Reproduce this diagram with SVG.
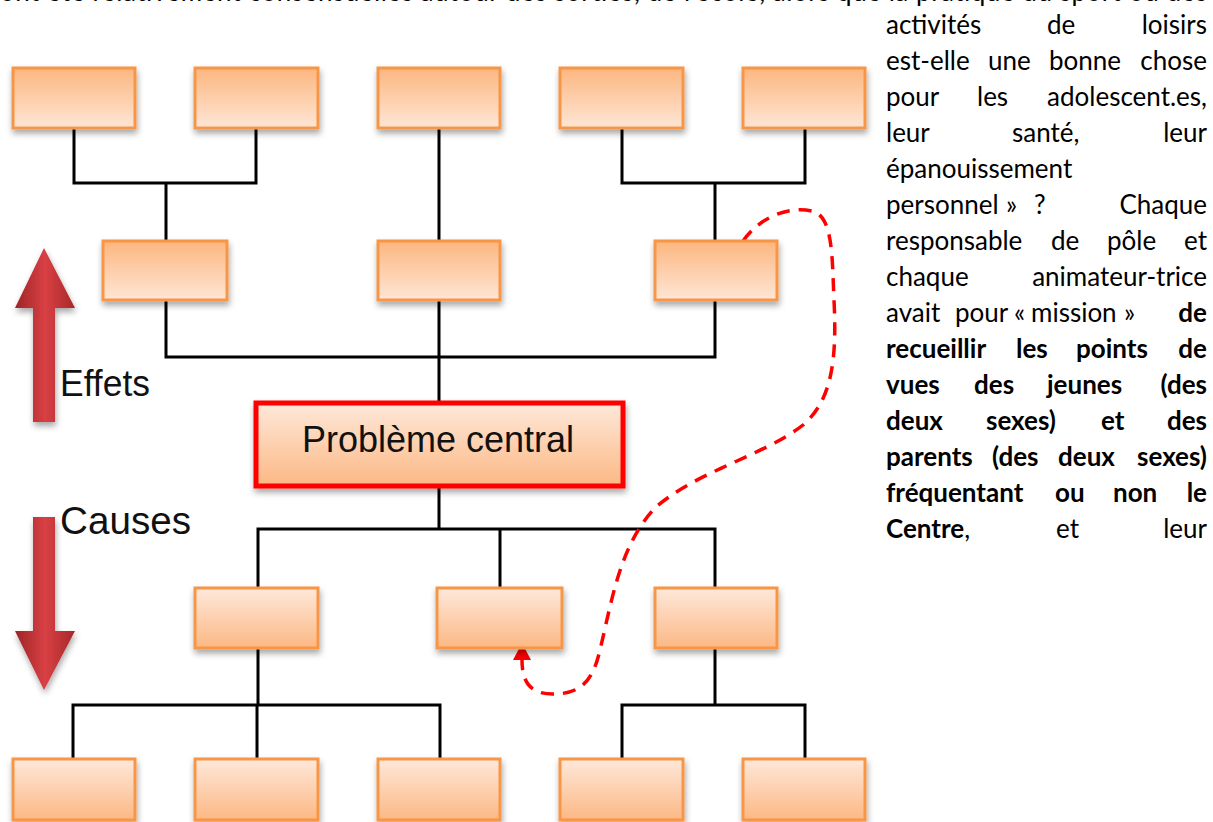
<svg xmlns="http://www.w3.org/2000/svg" width="1213" height="822" viewBox="0 0 1213 822">
<style>
.box{stroke:#f79646;stroke-width:3;filter:url(#sh)}
.up{fill:url(#gUp)}
.dn{fill:url(#gDn)}
.conn{fill:none;stroke:#000;stroke-width:3;stroke-linejoin:miter}
.dash{fill:none;stroke:#ff0000;stroke-width:3.5;stroke-dasharray:13 9;stroke-linecap:butt}
.lbl{font-family:"Liberation Sans",Arial,sans-serif;fill:#111}
.para{font-family:Lato,"Open Sans",sans-serif;font-size:26px;fill:#000}
.b{font-weight:700}
</style>
<defs>
<linearGradient id="gUp" x1="0" y1="0" x2="0" y2="1">
<stop offset="0" stop-color="#fcb67f"/><stop offset="1" stop-color="#fee6d6"/>
</linearGradient>
<linearGradient id="gDn" x1="0" y1="0" x2="0" y2="1">
<stop offset="0" stop-color="#fee8da"/><stop offset="1" stop-color="#fcb884"/>
</linearGradient>
<linearGradient id="gArrow" x1="0" y1="0" x2="1" y2="0">
<stop offset="0" stop-color="#9e2426"/><stop offset="0.5" stop-color="#d84044"/><stop offset="1" stop-color="#a8282a"/>
</linearGradient>
<filter id="sh" x="-20%" y="-20%" width="140%" height="150%">
<feDropShadow dx="1" dy="4" stdDeviation="3" flood-color="#000" flood-opacity="0.35"/>
</filter>
</defs>
<rect width="1213" height="822" fill="#fff"/>

<text class="para" x="0" y="1" textLength="1207" lengthAdjust="spacing">ont été relativement consensuelles autour des sorties, de l’école, alors que la pratique du sport ou des</text>

<g id="connectors">
<path class="conn" d="M74 128V183H256V128M166 183V241"/>
<path class="conn" d="M439 128V241M439 300V402"/>
<path class="conn" d="M622 128V183H805V128M715 183V241"/>
<path class="conn" d="M166 300V357H715V300"/>
<path class="conn" d="M439 487V529M258 588V529H715V588M500 529V588"/>
<path class="conn" d="M258 648V705M73 758V705H440V758M257 705V758"/>
<path class="conn" d="M715 648V705M622 758V705H805V758"/>
<path class="dash" d="M743 241C760 217 788 206 812 211C833 216 832 255 834 300C837 360 832 400 803 425C765 455 695 472 655 508C620 545 612 600 600 650C593 680 582 694 553 694C530 694 522 682 522 660"/>
<polygon points="522,643 513,660 531,660" fill="#ff0000"/>
</g>

<g id="effects-row1">
<rect id="e1" class="box up" x="13" y="68" width="122" height="60"/>
<rect id="e2" class="box up" x="195" y="68" width="123" height="60"/>
<rect id="e3" class="box up" x="378" y="68" width="122" height="60"/>
<rect id="e4" class="box up" x="560" y="68" width="123" height="60"/>
<rect id="e5" class="box up" x="743" y="68" width="122" height="60"/>
</g>
<g id="effects-row2">
<rect id="e6" class="box up" x="103" y="241" width="124" height="59"/>
<rect id="e7" class="box up" x="378" y="241" width="122" height="59"/>
<rect id="e8" class="box up" x="655" y="241" width="122" height="59"/>
</g>
<g id="central">
<rect x="256" y="403" width="367" height="83" fill="url(#gDn)" stroke="#ff0000" stroke-width="5" filter="url(#sh)"/>
<text class="lbl" x="438" y="452" font-size="36" text-anchor="middle">Problème central</text>
</g>
<g id="causes-row1">
<rect id="c1" class="box dn" x="195" y="588" width="123" height="60"/>
<rect id="c2" class="box dn" x="437" y="588" width="125" height="60"/>
<rect id="c3" class="box dn" x="655" y="588" width="122" height="60"/>
</g>
<g id="causes-row2">
<rect id="c4" class="box dn" x="13" y="759" width="122" height="61"/>
<rect id="c5" class="box dn" x="195" y="759" width="123" height="61"/>
<rect id="c6" class="box dn" x="378" y="759" width="122" height="61"/>
<rect id="c7" class="box dn" x="560" y="759" width="123" height="61"/>
<rect id="c8" class="box dn" x="743" y="759" width="122" height="61"/>
</g>

<g id="arrow-effets">
<path d="M33 422V308H15L44 248L75 308H55V422Z" fill="url(#gArrow)" filter="url(#sh)"/>
<text class="lbl" x="60" y="396" font-size="37" textLength="90" lengthAdjust="spacingAndGlyphs">Effets</text>
</g>
<g id="arrow-causes">
<path d="M33 517H55V631H75L44 690L15 631H33Z" fill="url(#gArrow)" filter="url(#sh)"/>
<text class="lbl" x="60" y="534" font-size="38" textLength="131" lengthAdjust="spacingAndGlyphs">Causes</text>
</g>

<g id="paragraph" class="para">
<text y="34"><tspan x="886">activités</tspan><tspan x="1047">de</tspan><tspan x="1207" text-anchor="end">loisirs</tspan></text>
<text y="70"><tspan x="886">est-elle</tspan><tspan x="988">une</tspan><tspan x="1049">bonne</tspan><tspan x="1207" text-anchor="end">chose</tspan></text>
<text y="106"><tspan x="886">pour</tspan><tspan x="977">les</tspan><tspan x="1207" text-anchor="end">adolescent.es,</tspan></text>
<text y="142"><tspan x="886">leur</tspan><tspan x="1012">santé,</tspan><tspan x="1207" text-anchor="end">leur</tspan></text>
<text y="178" x="886">épanouissement</text>
<text y="214"><tspan x="886">personnel</tspan><tspan x="1006">»</tspan><tspan x="1034">?</tspan><tspan x="1207" text-anchor="end">Chaque</tspan></text>
<text y="250"><tspan x="886">responsable</tspan><tspan x="1051">de</tspan><tspan x="1107">pôle</tspan><tspan x="1207" text-anchor="end">et</tspan></text>
<text y="286"><tspan x="886">chaque</tspan><tspan x="1207" text-anchor="end">animateur-trice</tspan></text>
<text y="322"><tspan x="886">avait</tspan><tspan x="955">pour</tspan><tspan x="1014">«</tspan><tspan x="1031">mission</tspan><tspan x="1124">»</tspan><tspan class="b" x="1207" text-anchor="end">de</tspan></text>
<text y="358" class="b"><tspan x="886">recueillir</tspan><tspan x="1016">les</tspan><tspan x="1076">points</tspan><tspan x="1207" text-anchor="end">de</tspan></text>
<text y="394" class="b"><tspan x="886">vues</tspan><tspan x="974">des</tspan><tspan x="1047">jeunes</tspan><tspan x="1207" text-anchor="end">(des</tspan></text>
<text y="430" class="b"><tspan x="886">deux</tspan><tspan x="986">sexes)</tspan><tspan x="1101">et</tspan><tspan x="1207" text-anchor="end">des</tspan></text>
<text y="466" class="b"><tspan x="886">parents</tspan><tspan x="992">(des</tspan><tspan x="1058">deux</tspan><tspan x="1207" text-anchor="end">sexes)</tspan></text>
<text y="502" class="b"><tspan x="886">fréquentant</tspan><tspan x="1055">ou</tspan><tspan x="1113">non</tspan><tspan x="1207" text-anchor="end">le</tspan></text>
<text y="538"><tspan x="886" class="b">Centre</tspan><tspan>,</tspan><tspan x="1056">et</tspan><tspan x="1207" text-anchor="end">leur</tspan></text>
</g>
</svg>
